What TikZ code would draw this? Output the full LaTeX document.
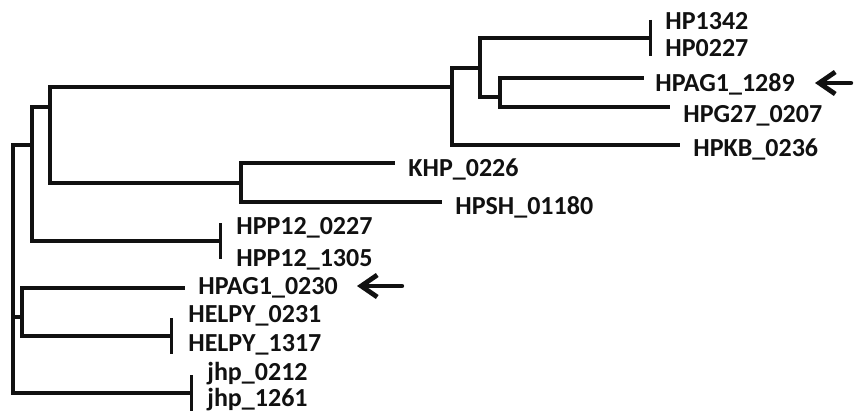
\documentclass[tikz,border=0pt]{standalone}
\usepackage{fontspec}
\setmainfont{Carlito}
\usepackage{tikz}
\usetikzlibrary{arrows.meta,calc,positioning}
\definecolor{TreeInk}{HTML}{111111}
\tikzset{every node/.style={font=\bfseries\fontsize{13}{15}\selectfont,color=TreeInk}}
\tikzset{
  leaf/.style={anchor=west,inner sep=0pt,text height=8.4pt,text depth=0pt},
  branch/.style={line width=1.7pt,color=TreeInk,line cap=rect},
  pairbar/.style={branch,-{Bar[width=18pt,line width=1.7pt]}},
  pointer/.style={line width=2.2pt,color=TreeInk,line cap=round,
    -{Straight Barb[length=8pt,width=11pt,line width=2.4pt]}}
}

\begin{document}
\begin{tikzpicture}[x=0.5pt,y=-0.5pt]
  \useasboundingbox (0,0) rectangle (854,411);
  % --- inner nodes of the tree ---
  \coordinate (root) at (13,317);
  \coordinate (n1) at (32,145);
  \coordinate (n2) at (50,107);
  \coordinate (n3) at (452,87);
  \coordinate (n4) at (241,183);
  \coordinate (n5) at (480,68);
  \coordinate (n6) at (500,97);
  \coordinate (n7) at (22,317);
  % --- branch ends ---
  \coordinate (tHP) at (652,38);
  \coordinate (t1289) at (642,78);
  \coordinate (tG27) at (668,107);
  \coordinate (tKB) at (678,145);
  \coordinate (tKHP) at (393,163);
  \coordinate (tSH) at (440,202);
  \coordinate (tPP) at (222,241);
  \coordinate (t0230) at (183,288);
  \coordinate (tHEL) at (173,336);
  \coordinate (tJHP) at (193,393);
  % --- branches ---
  \foreach \a/\b in {root/n1,root/n7,n1/n2,n2/n3,n2/n4,n3/n5,n3/tKB,n5/n6,
                     n6/t1289,n6/tG27,n4/tKHP,n4/tSH,n7/t0230}
    \draw[branch] (\a) |- (\b);
  % --- identical pairs end in a bar ---
  \foreach \a/\b in {n5/tHP,n1/tPP,n7/tHEL,root/tJHP}
    \draw[pairbar] (\a) |- (\b);
  % --- leaf labels ---
  \node[leaf] (hp1342) at (665,21) {HP1342};
  \node[leaf] (hp0227) at (665,48) {HP0227};
  \node[leaf] (hpag1289) at (655,83) {HPAG1\_1289};
  \node[leaf] (hpg27) at (683,114) {HPG27\_0207};
  \node[leaf] (hpkb) at (693,148) {HPKB\_0236};
  \node[leaf] (khp) at (408,168) {KHP\_0226};
  \node[leaf] (hpsh) at (455,206) {HPSH\_01180};
  \node[leaf] (hpp0227) at (236,226) {HPP12\_0227};
  \node[leaf] (hpp1305) at (236,258) {HPP12\_1305};
  \node[leaf] (hpag0230) at (198,286) {HPAG1\_0230};
  \node[leaf] (helpy0231) at (188,314) {HELPY\_0231};
  \node[leaf] (helpy1317) at (188,343) {HELPY\_1317};
  \node[leaf] (jhp0212) at (207,372) {jhp\_0212};
  \node[leaf] (jhp1261) at (207,398) {jhp\_1261};
  % --- arrows marking the two genes ---
  \coordinate (a1289) at (851,83);
  \coordinate (a1289tip) at (815,83);
  \coordinate (a0230) at (402,286);
  \coordinate (a0230tip) at (357,286);
  \draw[pointer] (a1289) -- (a1289tip);
  \draw[pointer] (a0230) -- (a0230tip);
\end{tikzpicture}
\end{document}
